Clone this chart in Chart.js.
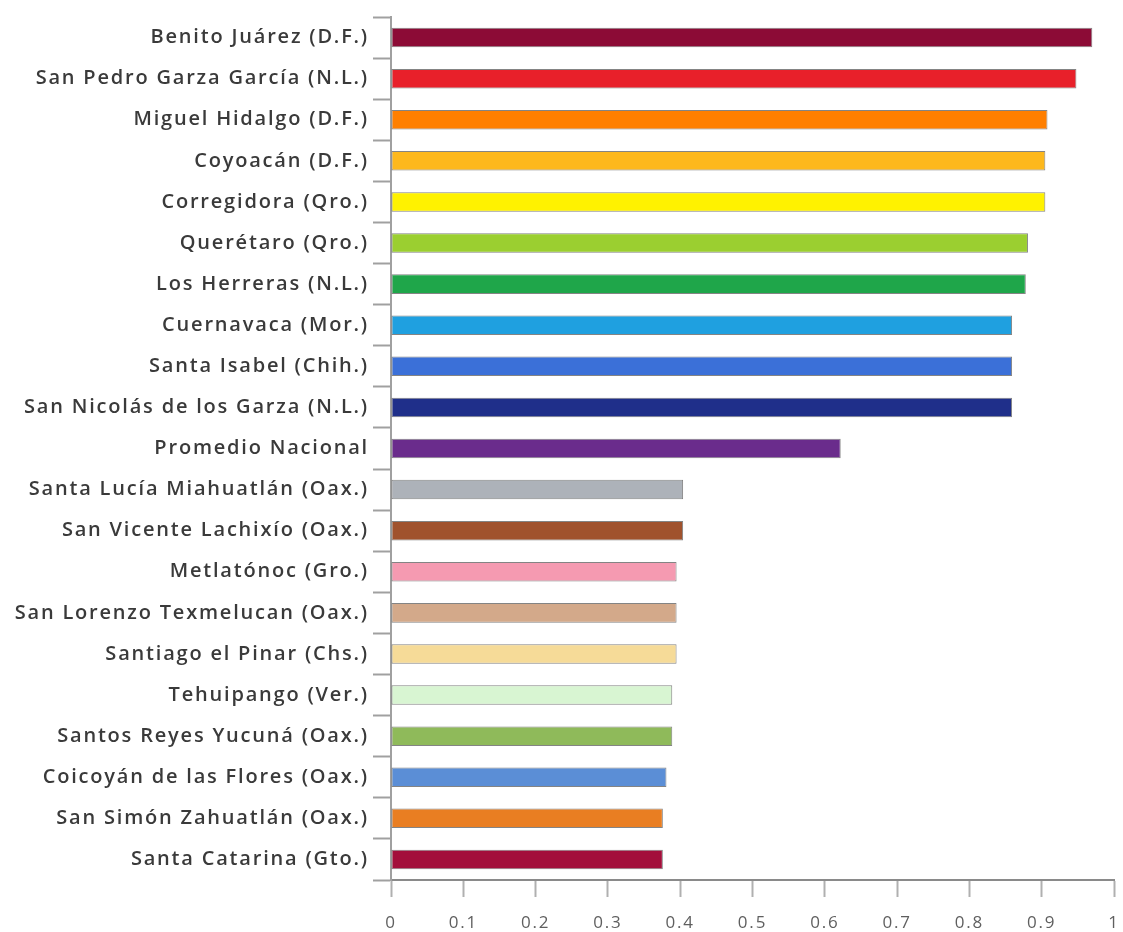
<!DOCTYPE html>
<html lang="es">
<head>
<meta charset="utf-8">
<title>Municipios</title>
<script src="https://cdn.jsdelivr.net/npm/chart.js@4.4.1/dist/chart.umd.min.js"></script>
<style>
  html, body { margin: 0; padding: 0; background: #ffffff; }
  #wrap { width: 1123px; height: 932px; position: relative; }
</style>
</head>
<body>
<div id="wrap"><canvas id="chart"></canvas></div>
<script>
// Municipios, de mayor a menor
const municipios = [
  'Benito Juárez (D.F.)',
  'San Pedro Garza García (N.L.)',
  'Miguel Hidalgo (D.F.)',
  'Coyoacán (D.F.)',
  'Corregidora (Qro.)',
  'Querétaro (Qro.)',
  'Los Herreras (N.L.)',
  'Cuernavaca (Mor.)',
  'Santa Isabel (Chih.)',
  'San Nicolás de los Garza (N.L.)',
  'Promedio Nacional',
  'Santa Lucía Miahuatlán (Oax.)',
  'San Vicente Lachixío (Oax.)',
  'Metlatónoc (Gro.)',
  'San Lorenzo Texmelucan (Oax.)',
  'Santiago el Pinar (Chs.)',
  'Tehuipango (Ver.)',
  'Santos Reyes Yucuná (Oax.)',
  'Coicoyán de las Flores (Oax.)',
  'San Simón Zahuatlán (Oax.)',
  'Santa Catarina (Gto.)'
];

// Valor del índice por municipio
const indice = [
  0.970, 0.948, 0.908, 0.905, 0.905, 0.881, 0.878, 0.859, 0.859, 0.859,
  0.622,
  0.404, 0.404, 0.395, 0.395, 0.395, 0.389, 0.389, 0.381, 0.376, 0.376
];

// Color de cada barra
const colores = [
  '#8c0b36', '#e8202a', '#ff7f00', '#fdb81c', '#fff200', '#9bcf30', '#1fa64a',
  '#1fa0e0', '#3b70d8', '#1f2f8a', '#6a2c8c', '#adb2b9', '#a0522d', '#f59ab1',
  '#d3a98a', '#f6db98', '#d8f5d2', '#8fba5a', '#5b8ed6', '#e97e22', '#a30f3b'
];

// Marcas del eje horizontal
const marcasX = [0, 0.1, 0.2, 0.3, 0.4, 0.5, 0.6, 0.7, 0.8, 0.9, 1];

// Espaciado de letras para las etiquetas
const LABEL_SPACING = '1.8px';
const spacing = {
  id: 'spacing',
  beforeLayout(chart) { chart.ctx.letterSpacing = LABEL_SPACING; },
  beforeDraw(chart) { chart.ctx.letterSpacing = LABEL_SPACING; }
};

new Chart(document.getElementById('chart'), {
  type: 'bar',
  data: {
    labels: municipios,
    datasets: [{
      data: indice,
      backgroundColor: colores,
      borderColor: 'rgba(80,80,80,0.7)',
      borderWidth: 1,
      borderSkipped: false,
      barPercentage: 0.95,
      categoryPercentage: 0.5
    }]
  },
  options: {
    indexAxis: 'y',
    responsive: true,
    maintainAspectRatio: false,
    animation: false,
    layout: { padding: { top: 17, right: 9, bottom: 0, left: 0 } },
    plugins: { legend: { display: false }, tooltip: { enabled: false } },
    scales: {
      x: {
        type: 'linear',
        min: 0,
        max: 1,
        afterBuildTicks(scale) { scale.ticks = marcasX.map(v => ({ value: v })); },
        afterFit(scale) {
          scale.height = 52;
          scale.paddingLeft = 0;
          scale.paddingRight = 0;
        },
        ticks: {
          color: '#5f5f5f',
          font: { family: 'Open Sans', size: 17 },
          padding: 16,
          maxRotation: 0,
          callback: (v) => String(v)
        },
        grid: { drawOnChartArea: false, color: '#b0b0b0', tickLength: 17, tickWidth: 2 },
        border: { color: '#8a8a8a', width: 2 }
      },
      y: {
        afterFit(scale) {
          scale.width = 391;
          scale.paddingTop = 0;
          scale.paddingBottom = 0;
        },
        ticks: {
          color: '#3a3a3a',
          font: { family: 'Open Sans', size: 20, weight: '600' },
          padding: 4
        },
        grid: { offset: true, drawOnChartArea: false, color: '#a0a0a0', tickLength: 18, tickWidth: 2 },
        border: { color: '#a0a0a0', width: 2 }
      }
    }
  },
  plugins: [spacing]
});
</script>
</body>
</html>
